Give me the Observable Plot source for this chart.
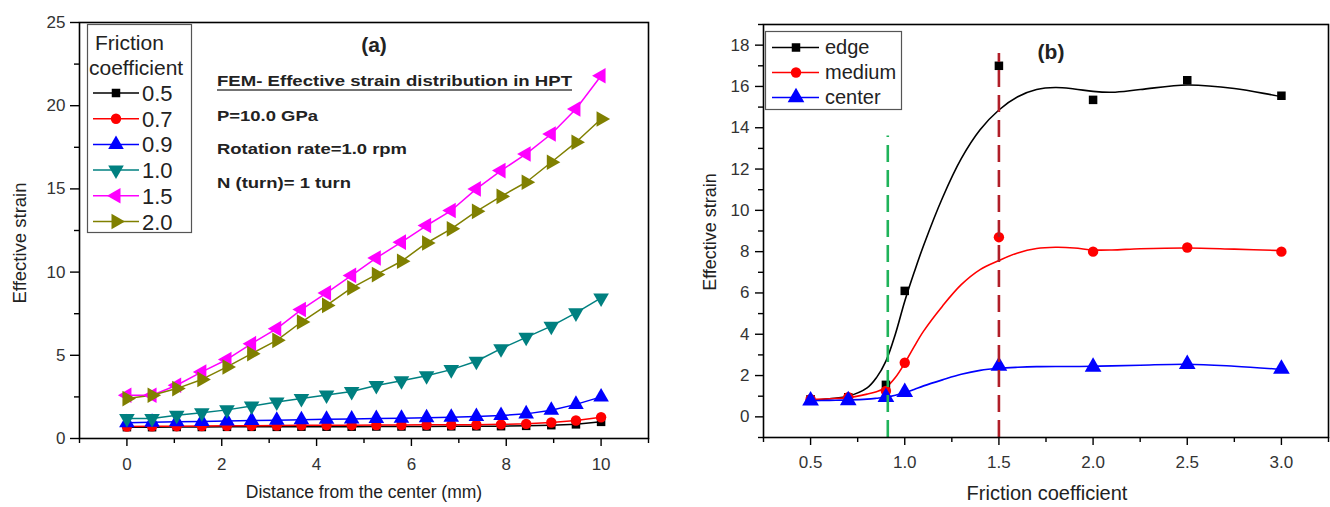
<!DOCTYPE html>
<html><head><meta charset="utf-8">
<script src="https://cdn.jsdelivr.net/npm/d3@7"></script>
<script src="https://cdn.jsdelivr.net/npm/@observablehq/plot@0.6"></script>
<style>
body{margin:0;background:#fff;}
#wrap{position:relative;width:1330px;height:507px;overflow:hidden;background:#fff;font-family:"Liberation Sans",Arial,Helvetica,sans-serif;}
#wrap svg{position:absolute;overflow:visible;}
</style></head><body><div id="wrap"></div>
<script>
const FONT = '"Liberation Sans", Arial, Helvetica, sans-serif';

// ---------- Panel (a) data ----------
const distance = [0, 0.53, 1.05, 1.58, 2.11, 2.63, 3.16, 3.68, 4.21, 4.74, 5.26, 5.79, 6.32, 6.84, 7.37, 7.89, 8.42, 8.95, 9.47, 10];
const frictionA = ["0.5", "0.7", "0.9", "1.0", "1.5", "2.0"];
const strain05 = [0.68,0.68,0.69,0.69,0.70,0.70,0.70,0.71,0.71,0.71,0.72,0.72,0.72,0.73,0.73,0.74,0.76,0.80,0.85,1.00];
const strain07 = [0.72,0.73,0.74,0.75,0.76,0.77,0.78,0.79,0.80,0.80,0.81,0.81,0.82,0.82,0.83,0.85,0.88,0.96,1.08,1.28];
const strain09 = [0.95,0.97,1.00,1.02,1.05,1.08,1.10,1.12,1.15,1.17,1.20,1.22,1.25,1.28,1.32,1.38,1.48,1.70,2.05,2.50];
const strain10 = [1.20,1.20,1.40,1.55,1.72,1.95,2.20,2.40,2.62,2.83,3.19,3.47,3.77,4.14,4.64,5.40,6.08,6.75,7.55,8.45];
const strain15 = [2.60,2.60,3.20,4.00,4.75,5.70,6.60,7.75,8.75,9.80,10.85,11.80,12.80,13.70,15.00,16.10,17.10,18.30,19.80,21.80];
const strain20 = [2.40,2.60,3.00,3.55,4.30,5.10,5.90,7.00,8.00,9.05,9.85,10.65,11.75,12.60,13.65,14.55,15.40,16.60,17.80,19.20];
const seriesA = [strain05, strain07, strain09, strain10, strain15, strain20];
const yTicksA = [0, 5, 10, 15, 20, 25];
const yMinorA = [2.5, 7.5, 12.5, 17.5, 22.5];
const xTicksA = [0, 2, 4, 6, 8, 10];
const xMinorA = [-1, 1, 3, 5, 7, 9, 11];

// ---------- Panel (b) data ----------
const frictionB = [0.5, 0.7, 0.9, 1.0, 1.5, 2.0, 2.5, 3.0];
const regionsB = ["edge", "medium", "center"];
const edgeB   = [0.85, 0.95, 1.55, 6.10, 17.00, 15.35, 16.30, 15.55];
const mediumB = [0.85, 0.95, 1.25, 2.62, 8.70, 8.00, 8.20, 8.00];
const centerB = [0.78, 0.80, 0.95, 1.20, 2.46, 2.42, 2.55, 2.32];
const fitX      = [0.5, 0.6, 0.7, 0.8, 0.85, 0.9, 0.95, 1.0, 1.05, 1.1, 1.2, 1.3, 1.4, 1.5, 1.6, 1.7, 1.8, 1.9, 2.0, 2.1, 2.25, 2.5, 2.75, 3.0];
const edgeFit   = [0.80,0.88,1.00,1.40,1.90,2.70,4.00,5.60,7.00,8.30,10.60,12.50,13.90,14.86,15.50,15.85,15.95,15.88,15.76,15.72,15.85,16.07,15.90,15.50];
const mediumFit = [0.85,0.88,0.93,1.10,1.22,1.42,1.90,2.60,3.40,4.15,5.36,6.40,7.13,7.57,7.94,8.15,8.21,8.18,8.08,8.08,8.14,8.18,8.12,8.05];
const centerFit = [0.78,0.80,0.82,0.86,0.90,0.95,1.05,1.17,1.33,1.50,1.79,2.06,2.25,2.35,2.40,2.43,2.44,2.44,2.45,2.47,2.50,2.55,2.45,2.30];
const seriesB = [edgeB, mediumB, centerB];
const fitsB = [edgeFit, mediumFit, centerFit];
const markerLineX = [0.91, 1.5];
const markerLineTop = [13.6, 17.6];
const yTicksB = [0, 2, 4, 6, 8, 10, 12, 14, 16, 18];
const yMinorB = [-1, 1, 3, 5, 7, 9, 11, 13, 15, 17, 19];
const xTicksB = [0.5, 1.0, 1.5, 2.0, 2.5, 3.0];
const xMinorB = [0.25, 0.75, 1.25, 1.75, 2.25, 2.75, 3.25];

// ---------- styles ----------
const colorsA = ["#000000", "#ff0000", "#0000ff", "#008080", "#ff00ff", "#808000"];
const symbolsA = [d3.symbolSquare, d3.symbolCircle, d3.symbolTriangle, d3.symbolTriangle, d3.symbolTriangle, d3.symbolTriangle];
const rotateA = [0, 0, 0, 180, -90, 90];
const rA = [4.8, 5.2, 5.8, 5.8, 5.8, 5.8];
const colorsB = ["#000000", "#ff0000", "#0000ff"];
const symbolsB = [d3.symbolSquare, d3.symbolCircle, d3.symbolTriangle];
const rB = [4.8, 5.2, 6.2];
const dashColors = ["#1fb35a", "#b01e28"];

const wrap = document.getElementById("wrap");

// ---------- Panel (a) ----------
const rowsA = frictionA.flatMap((f, i) => distance.map((d, j) => ({f, d, s: seriesA[i][j]})));
const plotA = Plot.plot({
  width: 660, height: 507,
  marginLeft: 79, marginRight: 12, marginTop: 22, marginBottom: 69,
  x: {domain: [-1, 11]},
  y: {domain: [0, 25]},
  style: {fontFamily: FONT, fontSize: "17px", color: "#000", background: "transparent", overflow: "visible"},
  marks: [
    Plot.axisY(yTicksA, {tickSize: 9, tickPadding: 5, label: null, fill: "#333", strokeWidth: 1.4}),
    Plot.axisY(yMinorA, {tickSize: 5, tickFormat: () => "", label: null, strokeWidth: 1.4}),
    Plot.axisX(xTicksA, {tickSize: 8, tickPadding: 11, label: null, fill: "#333", strokeWidth: 1.4}),
    Plot.axisX(xMinorA, {tickSize: 5, tickFormat: () => "", label: null, strokeWidth: 1.4}),
    ...frictionA.map((f, i) => Plot.line(rowsA.filter(r => r.f === f), {x: "d", y: "s", stroke: colorsA[i], strokeWidth: 1.5})),
    ...frictionA.map((f, i) => Plot.dot(rowsA.filter(r => r.f === f), {x: "d", y: "s", symbol: symbolsA[i], fill: colorsA[i], stroke: "none", r: rA[i], rotate: rotateA[i]})),
    Plot.frame({stroke: "#000", strokeWidth: 1.6})
  ]
});
plotA.style.left = "0px"; plotA.style.top = "0px";
wrap.appendChild(plotA);

// ---------- Panel (b) ----------
const rowsB = regionsB.flatMap((g, i) => frictionB.map((x, j) => ({g, x, s: seriesB[i][j]})));
const fitRows = regionsB.flatMap((g, i) => fitX.map((x, j) => ({g, x, s: fitsB[i][j]})));
const ruleRows = markerLineX.map((x, i) => ({x, top: markerLineTop[i], c: dashColors[i]}));
const plotB = Plot.plot({
  width: 630, height: 507,
  marginLeft: 63, marginRight: 2, marginTop: 24, marginBottom: 70,
  x: {domain: [0.25, 3.25]},
  y: {domain: [-1, 19]},
  style: {fontFamily: FONT, fontSize: "17px", color: "#000", background: "transparent", overflow: "visible"},
  marks: [
    Plot.axisY(yTicksB, {tickSize: 8, tickPadding: 6, label: null, fill: "#333", strokeWidth: 1.4}),
    Plot.axisY(yMinorB, {tickSize: 5, tickFormat: () => "", label: null, strokeWidth: 1.4}),
    Plot.axisX(xTicksB, {tickSize: 8, tickPadding: 10, tickFormat: d3.format(".1f"), label: null, fill: "#333", strokeWidth: 1.4}),
    Plot.axisX(xMinorB, {tickSize: 5, tickFormat: () => "", label: null, strokeWidth: 1.4}),
    ...regionsB.map((g, i) => Plot.line(fitRows.filter(r => r.g === g), {x: "x", y: "s", stroke: colorsB[i], strokeWidth: 1.6, curve: "catmull-rom"})),
    ...regionsB.map((g, i) => Plot.dot(rowsB.filter(r => r.g === g), {x: "x", y: "s", symbol: symbolsB[i], fill: colorsB[i], stroke: "none", r: rB[i]})),
    Plot.ruleX(ruleRows, {x: "x", y1: -1, y2: "top", stroke: "c", strokeWidth: 2.6, strokeDasharray: "17,8"}),
    Plot.frame({stroke: "#000", strokeWidth: 1.6})
  ]
});
plotB.style.left = "700px"; plotB.style.top = "0px";
wrap.appendChild(plotB);

// ---------- overlay: legends, titles, annotations ----------
const ov = d3.select(wrap).append("svg")
  .attr("width", 1330).attr("height", 507)
  .style("left", "0px").style("top", "0px")
  .style("font-family", FONT);

function symbolPath(type, r) { return d3.symbol().type(type).size(Math.PI * r * r)(); }

// Legend (a)
ov.append("rect").attr("x", 87.5).attr("y", 24.5).attr("width", 104).attr("height", 208)
  .attr("fill", "#fff").attr("stroke", "#555").attr("stroke-width", 1.2);
ov.append("text").attr("x", 95).attr("y", 50).attr("font-size", 21).attr("fill", "#222").text("Friction");
ov.append("text").attr("x", 89).attr("y", 75).attr("font-size", 21).attr("fill", "#222").text("coefficient");
frictionA.forEach((f, i) => {
  const cy = 93 + i * 25.7;
  ov.append("line").attr("x1", 93).attr("x2", 139).attr("y1", cy).attr("y2", cy)
    .attr("stroke", colorsA[i]).attr("stroke-width", 1.5);
  ov.append("path").attr("d", symbolPath(symbolsA[i], rA[i]))
    .attr("transform", `translate(116,${cy}) rotate(${rotateA[i]})`).attr("fill", colorsA[i]);
  ov.append("text").attr("x", 142).attr("y", cy + 8).attr("font-size", 22).attr("fill", "#222").text(f);
});

// Annotations (a)
ov.append("text").attr("x", 374).attr("y", 52).attr("text-anchor", "middle")
  .attr("font-size", 21).attr("font-weight", "bold").attr("fill", "#222").text("(a)");
const notes = [
  {t: "FEM- Effective strain distribution in HPT", y: 86, w: 355},
  {t: "P=10.0 GPa", y: 121, w: 101},
  {t: "Rotation rate=1.0 rpm", y: 154, w: 190},
  {t: "N (turn)= 1 turn", y: 188, w: 134}
];
notes.forEach(n => {
  ov.append("text").attr("x", 217).attr("y", n.y).attr("font-size", 15.5)
    .attr("font-weight", "bold").attr("fill", "#222")
    .attr("textLength", n.w).attr("lengthAdjust", "spacingAndGlyphs").text(n.t);
});
ov.append("line").attr("x1", 217).attr("x2", 217 + 355).attr("y1", 90).attr("y2", 90)
  .attr("stroke", "#444").attr("stroke-width", 1.3);

// Axis titles (a)
ov.append("text").attr("transform", "translate(26,243) rotate(-90)").attr("text-anchor", "middle")
  .attr("font-size", 18.5).attr("fill", "#222").text("Effective strain");
ov.append("text").attr("x", 364).attr("y", 498).attr("text-anchor", "middle")
  .attr("font-size", 17.5).attr("fill", "#222").text("Distance from the center (mm)");

// Legend (b)
ov.append("rect").attr("x", 765.5).attr("y", 31.5).attr("width", 136).attr("height", 78)
  .attr("fill", "#fff").attr("stroke", "#555").attr("stroke-width", 1.2);
regionsB.forEach((g, i) => {
  const cy = 47.5 + i * 25;
  ov.append("line").attr("x1", 772).attr("x2", 819).attr("y1", cy).attr("y2", cy)
    .attr("stroke", colorsB[i]).attr("stroke-width", 1.5);
  ov.append("path").attr("d", symbolPath(symbolsB[i], rB[i]))
    .attr("transform", `translate(796,${cy})`).attr("fill", colorsB[i]);
  ov.append("text").attr("x", 825).attr("y", cy + 6.5).attr("font-size", 20).attr("fill", "#222").text(g);
});

// Annotations (b)
ov.append("text").attr("x", 1051).attr("y", 59).attr("text-anchor", "middle")
  .attr("font-size", 21).attr("font-weight", "bold").attr("fill", "#222").text("(b)");
ov.append("text").attr("transform", "translate(716,232) rotate(-90)").attr("text-anchor", "middle")
  .attr("font-size", 18).attr("fill", "#222").text("Effective strain");
ov.append("text").attr("x", 1047).attr("y", 500).attr("text-anchor", "middle")
  .attr("font-size", 20).attr("fill", "#222").text("Friction coefficient");
</script>
</body></html>
